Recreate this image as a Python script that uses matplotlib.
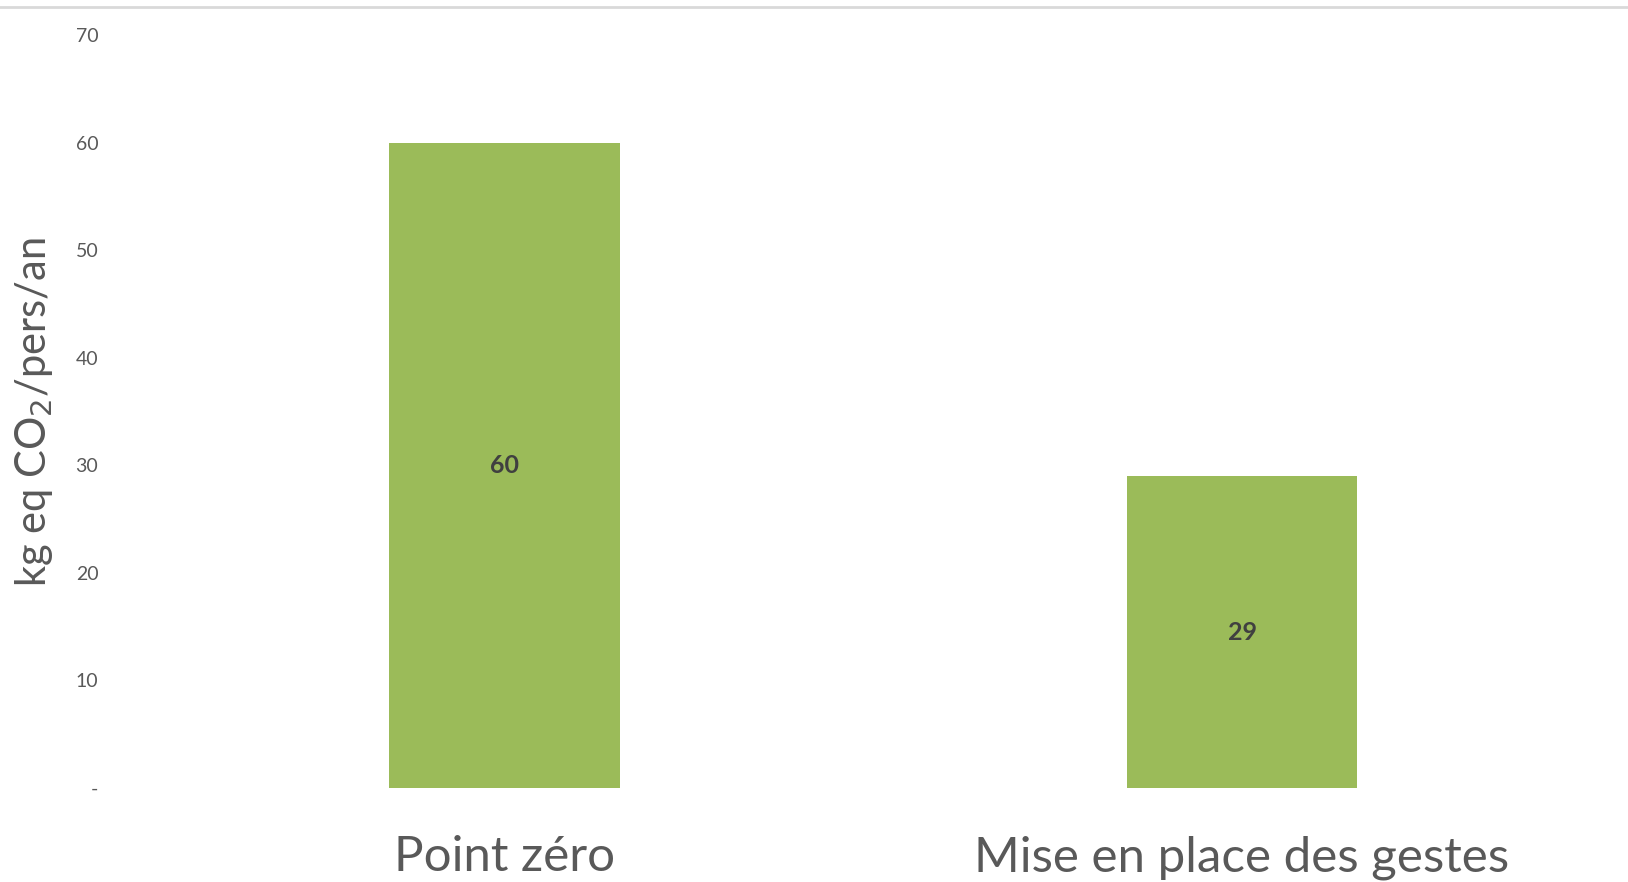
import matplotlib.pyplot as plt
from matplotlib.lines import Line2D

categories = ["Point zéro", "Mise en place des gestes"]
values = [60, 29]
yticks = [0, 10, 20, 30, 40, 50, 60, 70]
ytick_labels = ["-", "10", "20", "30", "40", "50", "60", "70"]

plt.rcParams['font.family'] = ['Lato', 'DejaVu Sans']

fig = plt.figure(figsize=(16.28, 8.82), dpi=100)
ax = fig.add_axes([0.0834, 0.1066, 0.906, 0.8534])

x = range(len(categories))
bars = ax.bar(x, values, width=0.313, color='#9BBB59')
for b, v in zip(bars, values):
    ax.text(b.get_x() + b.get_width() / 2, v / 2, "%d" % v, ha='center', va='center',
            fontsize=18, fontweight='bold', color='#404040')

ax.set_xlim(-0.5, 1.5)
ax.set_ylim(0, 70)
ax.set_yticks(yticks)
ax.set_yticklabels(ytick_labels)
ax.set_xticks(list(x))
ax.set_xticklabels(categories)
ax.tick_params(axis='y', length=0, pad=27, labelsize=14, labelcolor='#595959')
ax.tick_params(axis='x', length=0, pad=34, labelsize=35.5, labelcolor='#595959')
for s in ax.spines.values():
    s.set_visible(False)

ax.set_ylabel("kg eq CO$_2$/pers/an", fontsize=30, color='#595959')
ax.yaxis.set_label_coords(-0.055, 0.5)

fig.add_artist(Line2D([0, 1], [0.992, 0.992], transform=fig.transFigure, color='#d9d9d9', lw=2))

plt.savefig('out.png', dpi=100)
